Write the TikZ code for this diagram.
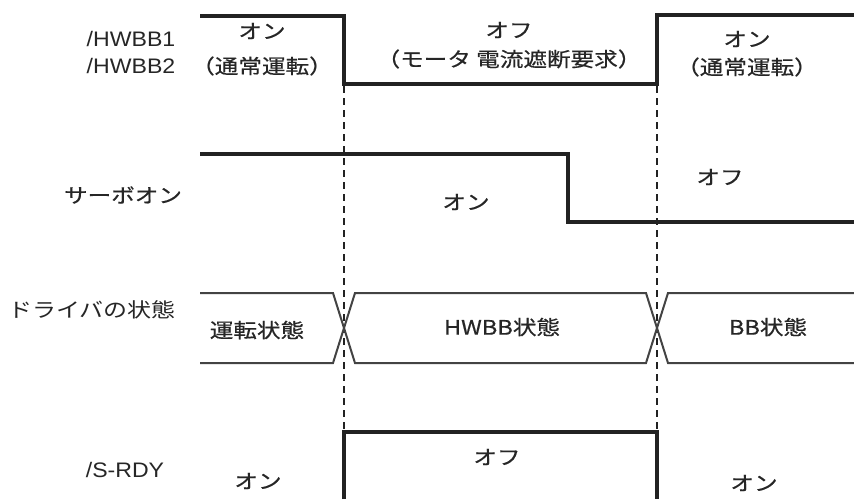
\documentclass[tikz,border=0pt]{standalone}
\usepackage{fontspec}
\setmainfont[FakeStretch=1.1]{Liberation Sans}
\newfontfamily\jp[FakeStretch=1.18,FakeBold=0.5]{Noto Sans CJK JP}
\newfontfamily\jplight[FakeStretch=1.2]{Noto Sans CJK JP}
\usetikzlibrary{calc}
\definecolor{ink}{HTML}{222222}
\definecolor{txt}{HTML}{262626}

\begin{document}
\begin{tikzpicture}[x=1pt,y=-1pt,
  signal/.style={draw=ink,line width=3.2pt},
  busline/.style={draw=ink!85,line width=2pt},
  guide/.style={draw=ink,line width=1.3pt,dash pattern=on 7pt off 5pt},
  sig/.style={text=txt,inner sep=0pt,font=\fontsize{21}{24}\selectfont},
  jsig/.style={text=txt,inner sep=0pt,font=\jp\fontsize{20}{24}\selectfont}]
\useasboundingbox (0,0) rectangle (854,499);
\coordinate (tA) at (344,0);
\coordinate (tB) at (657,0);

% dashed time marks
\draw[guide] (tA |- 0,86) -- (tA |- 0,432);
\draw[guide] (tB |- 0,86) -- (tB |- 0,432);

% /HWBB1, /HWBB2
\draw[signal] (200,16) -- (tA |- 0,16) -- (tA |- 0,84) -- (tB |- 0,84) -- (tB |- 0,15) -- (854,15);
\node[sig] (hwbbA) at (131,39) {/HWBB1};
\node[sig] (hwbbB) at (131,66) {/HWBB2};
\node[jsig] (hwOnA) at (262,31) {オン};
\node[jsig] (hwRunA) at (262,66) {（通常運転）};
\node[jsig] (hwOff) at (509,30) {オフ};
\node[jsig] (hwReq) at (509,59) {（モータ 電流遮断要求）};
\node[jsig] (hwOnB) at (747,39) {オン};
\node[jsig] (hwRunB) at (747,67) {（通常運転）};

% servo on
\draw[signal] (200,154) -- (568,154) -- (568,222) -- (854,222);
\node[jsig] (servo) at (123,195) {サーボオン};
\node[jsig] (svOn) at (466,202) {オン};
\node[jsig] (svOff) at (720,177) {オフ};

% driver state
\draw[busline] (200,293) -- ($(tA |- 0,293)+(-11,0)$) -- ($(tA |- 0,363)+(11,0)$)
  -- ($(tB |- 0,363)+(-11,0)$) -- ($(tB |- 0,293)+(11,0)$) -- (854,293);
\draw[busline] (200,363) -- ($(tA |- 0,363)+(-11,0)$) -- ($(tA |- 0,293)+(11,0)$)
  -- ($(tB |- 0,293)+(-11,0)$) -- ($(tB |- 0,363)+(11,0)$) -- (854,363);
\node[jsig,font=\jplight\fontsize{20}{24}\selectfont] (drv) at (92,310) {ドライバの状態};
\node[jsig] (stRun) at (257,330) {運転状態};
\node[jsig] (stHwbb) at (502,327) {HWBB状態};
\node[jsig] (stBb) at (768,327) {BB状態};

% /S-RDY
\draw[signal] (tA |- 0,499) -- (tA |- 0,432) -- (tB |- 0,432) -- (tB |- 0,499);
\node[sig] (srdy) at (125,470) {/S-RDY};
\node[jsig] (rdyOnA) at (258,481) {オン};
\node[jsig] (rdyOff) at (497,457) {オフ};
\node[jsig] (rdyOnB) at (754,483) {オン};
\end{tikzpicture}
\end{document}
